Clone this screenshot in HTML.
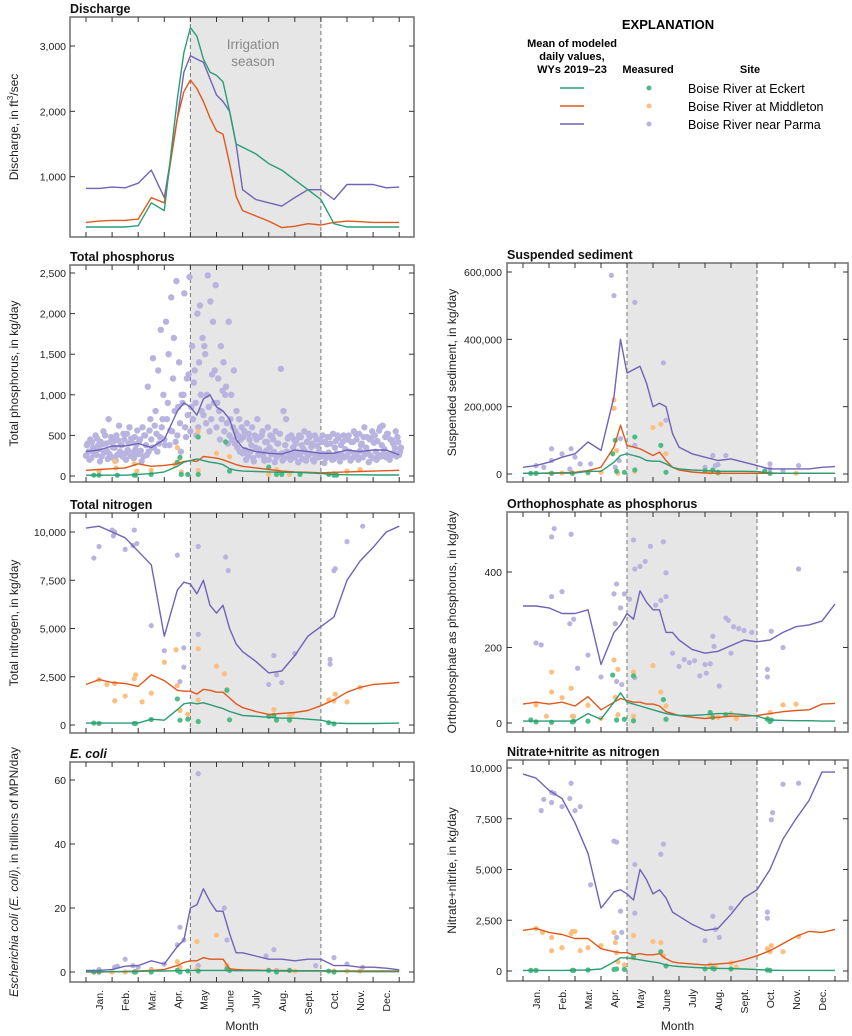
<!DOCTYPE html>
<html><head><meta charset="utf-8">
<style>
html,body{margin:0;padding:0;background:#fff;}
svg{display:block;font-family:"Liberation Sans Narrow","Liberation Sans",sans-serif;}
.tk{font-size:10.5px;fill:#222;}
.ttl{font-size:12.5px;font-weight:bold;fill:#111;}
.ax{font-size:12px;fill:#222;}
</style></head>
<body>
<svg id="chart" width="852" height="1036" viewBox="0 0 852 1036" xmlns="http://www.w3.org/2000/svg">
<g id="legend">
<text x="668" y="29" text-anchor="middle" style="font-size:13px;font-weight:bold">EXPLANATION</text>
<text x="572" y="47" text-anchor="middle" style="font-size:11px;font-weight:bold"><tspan x="572">Mean of modeled</tspan><tspan x="572" dy="13">daily values,</tspan><tspan x="572" dy="13">WYs 2019–23</tspan></text>
<text x="648" y="73" text-anchor="middle" style="font-size:11px;font-weight:bold">Measured</text>
<text x="750" y="73" text-anchor="middle" style="font-size:11px;font-weight:bold">Site</text>
<line x1="560" x2="584" y1="88" y2="88" stroke="#2a9d73" stroke-width="1.6"/>
<circle cx="649" cy="88" r="2.5" fill="#4cbb85"/>
<text x="688" y="93" style="font-size:12.5px">Boise River at Eckert</text>
<line x1="560" x2="584" y1="106" y2="106" stroke="#e0581c" stroke-width="1.6"/>
<circle cx="649" cy="106" r="2.5" fill="#fdbf7e"/>
<text x="688" y="111" style="font-size:12.5px">Boise River at Middleton</text>
<line x1="560" x2="584" y1="124" y2="124" stroke="#6f63b8" stroke-width="1.6"/>
<circle cx="649" cy="124" r="2.5" fill="#b9b3e0"/>
<text x="688" y="129" style="font-size:12.5px">Boise River near Parma</text>
</g>
</svg>
<script>
const t = [0,0.5,1,1.5,2,2.5,3,3.5,3.75,4,4.25,4.5,4.75,5,5.25,5.5,5.75,6,6.5,7,7.5,8,8.5,9,9.5,10,10.5,11,11.5,12];
const monthLabels = ["Jan.","Feb.","Mar.","Apr.","May","June","July","Aug.","Sept.","Oct.","Nov.","Dec."];

const qEckert = [230,230,230,230,250,600,480,2200,2900,3280,3150,2800,2600,2550,2450,2000,1500,1450,1350,1200,1100,950,800,650,280,230,230,230,230,230];
const qMiddleton = [300,320,330,330,350,680,600,1900,2300,2480,2350,2150,1900,1700,1650,1200,700,480,400,320,220,240,280,260,300,320,310,300,300,300];
const qParma = [820,820,840,830,900,1100,680,1900,2600,2850,2800,2750,2500,2250,2150,2000,1500,800,650,600,550,680,800,800,650,880,880,880,830,840];
const qTicks = [1000,2000,3000];
const qTickLabels = ["1,000","2,000","3,000"];

const tpEckert = [10,10,10,10,20,30,50,120,170,190,210,190,170,160,140,90,70,60,55,50,45,45,40,30,20,15,15,12,12,12];
const tpMiddleton = [70,80,90,100,150,120,130,150,180,190,180,240,230,220,200,170,140,120,100,80,60,50,45,40,45,50,55,60,65,70];
const tpParma = [300,320,370,370,400,350,450,800,900,850,750,950,1000,850,800,700,450,350,300,280,270,320,300,280,280,320,300,320,320,260];
const tpParmaMeasLow = [250,300,220,280,260,330,240,290,310,270,230,350,260,300,240,280,320,250,290,330,
270,310,240,380,300,450,350,520,400,600,450,700,380,550,800,500,650,900,600,750,
550,700,900,600,1000,750,650,850,700,900,600,800,700,550,650,500,450,400,350,300,
280,320,250,300,220,350,260,280,240,310,200,270,300,230,260,280,220,300,250,270,
230,290,260,210,300,250,280,200,260,230,240,270,220,290,250,210,280,240,260,230,
250,300,220,280,240,310,230,270,290,250,220,300,260,240,280,230,270,250,290,240,260];
const tpParmaMeasMid = [380,200,420,330,460,180,390,500,210,420,350,190,440,380,520,200,400,460,220,390,
420,180,500,260,560,350,620,300,480,700,380,900,560,1200,420,850,300,1000,480,1250,
850,1150,500,1400,800,1600,1000,550,1250,1300,900,450,1050,1000,400,700,600,550,500,450,
480,200,520,380,180,450,330,500,190,420,350,480,170,400,520,190,380,460,200,350,
400,170,480,330,190,520,360,180,450,300,420,160,390,480,200,350,500,180,420,330,
450,190,420,520,200,380,480,350,170,470,410,200,560,380,330,520,200,440,350,480,300];
const tpParmaMeasHigh = [400,450,350,500,380,420,550,400,700,480,430,500,620,380,450,520,600,410,480,560,
450,600,500,1100,700,1450,800,1300,1800,1000,1900,1500,2200,1700,2400,1400,1000,2250,1200,2450,
1600,1300,2000,2100,1700,1500,2470,2150,1900,2350,1200,1600,1400,1100,1900,1000,1300,800,700,600,
550,650,450,600,500,700,480,550,420,600,500,450,550,400,1320,800,700,480,500,450,
450,500,380,550,420,480,400,500,370,450,500,420,480,400,520,430,470,380,500,450,
500,420,550,450,520,400,600,480,450,550,500,430,600,620,480,520,450,400,550,420,350];
const tpMeasEckert = [[0.3,10],[0.5,10],[1.2,10],[1.85,10],[1.9,10],[2.5,20],[3.5,170],[3.6,230],[3.65,20],[3.9,20],[4.3,20],[4.3,480],[5.35,420],[5.5,60],[7,110],[7.3,20],[7.5,20],[8.2,20],[9.3,20],[9.5,10],[9.6,10]];
const tpMeasMiddleton = [[0.5,60],[1.1,180],[1.15,100],[1.85,150],[1.95,60],[2.5,70],[3.4,140],[3.5,350],[3.6,220],[3.65,50],[4.3,550],[4.3,70],[5.0,280],[5.5,240],[7.0,20],[7.3,80],[7.8,20],[9.5,30],[10,60],[10.5,80]];
const tpTicks = [0,500,1000,1500,2000,2500];
const tpTickLabels = ["0","500","1,000","1,500","2,000","2,500"];

const tnEckert = [100,100,100,100,100,300,250,800,1100,1150,1100,1150,1050,950,850,700,600,500,450,400,350,350,300,250,100,80,80,80,90,100];
const tnMiddleton = [2100,2350,2200,2150,2000,2600,2300,1800,1750,1750,1600,1850,1800,1700,1700,1400,1100,900,700,550,600,650,750,1000,1300,1700,1950,2100,2150,2200];
const tnParma = [10200,10300,10000,9700,9000,8300,4600,7000,7400,7300,6800,7500,6200,5800,6200,5000,4200,3800,3300,2700,2800,3600,4600,5100,5600,7500,8500,9200,10000,10300];
const tnMeasParma = [[0.3,8650],[0.5,9250],[1,10100],[1.05,9800],[1.1,10000],[1.5,9100],[1.8,9300],[1.85,10100],[1.95,9400],[2.5,5150],[3.0,3850],[3.5,8800],[3.6,2250],[3.75,3000],[3.75,4000],[4.3,9250],[4.3,4700],[5.35,8700],[5.45,8000],[7.0,2100],[7.2,3600],[7.3,2600],[7.5,2200],[8.0,3700],[9.35,3400],[9.35,3150],[9.5,8000],[9.55,8100],[10,9500],[10.6,10300]];
const tnMeasMiddleton = [[0.5,2350],[0.8,2100],[1.1,1250],[1.1,2150],[1.5,1500],[1.85,2400],[1.9,2600],[2.15,1200],[2.5,1650],[3.0,3250],[3.45,3900],[3.5,2050],[3.6,750],[3.9,550],[4.3,3950],[4.3,1300],[5.0,3050],[5.3,2650],[5.4,1850],[7.2,800],[7.9,550],[7.8,450],[9.3,1300],[9.5,1250],[9.55,1600],[10,1200],[10.5,1950]];
const tnMeasEckert = [[0.3,100],[0.5,80],[1.85,80],[1.9,80],[2.5,280],[3.5,1350],[3.6,250],[3.9,300],[4.3,180],[5.4,1800],[5.5,270],[7.0,450],[7.2,500],[7.3,250],[7.8,250],[9.3,120],[9.5,60]];
const tnTicks = [0,2500,5000,7500,10000];
const tnTickLabels = ["0","2,500","5,000","7,500","10,000"];

const ecEckert = [0.1,0.1,0.1,0.1,0.2,0.3,0.3,0.4,0.5,0.5,0.5,0.5,0.5,0.5,0.5,0.5,0.4,0.4,0.4,0.4,0.3,0.3,0.3,0.3,0.2,0.2,0.1,0.1,0.1,0.1];
const ecMiddleton = [0,0,0.1,0.2,0.3,0.5,0.8,2,3,3.5,3.5,4.5,4,4,4,1,0.8,0.7,0.6,0.5,0.5,0.4,0.4,0.4,0.3,0.3,0.3,0.3,0.3,0.3];
const ecParma = [0.5,0.5,0.8,1.8,2,3.5,2.5,8,10,20,21,26,22,19,19,12,6,6,5,4,4,3.5,4,4,2,2,1.5,1.5,1.2,0.7];
const ecMeasParma = [[0.5,0.8],[1.1,1.5],[1.2,1.8],[1.5,4],[1.8,2],[2.0,1.5],[2.5,0.8],[3.0,2.5],[3.5,8.5],[3.6,14],[3.75,10],[4.3,62],[4.3,2],[5.3,20],[5.4,10],[6.9,5],[7.2,7],[7.3,0.5],[8.8,2],[9.5,4.5],[10,2.5],[10.6,1.5]];
const ecMeasMiddleton = [[0.5,0],[1.0,0],[1.5,0],[1.9,0.2],[2.5,0.5],[3.5,3.2],[3.6,1.5],[4.25,9.5],[4.25,1],[5.0,11.5],[5.4,2],[7.3,0.2],[8.0,0.3],[9.5,0.3],[10,0.3],[10.5,0.3]];
const ecMeasEckert = [[0.3,0],[0.5,0],[1.85,0],[1.9,0],[2.5,0],[3.5,0.5],[3.6,0],[3.9,0.3],[4.3,0.3],[5.4,1],[5.5,0.5],[7.0,0.5],[7.3,0],[7.8,0.5],[9.3,0.3],[9.5,0]];
const ecTicks = [0,20,40,60];
const ecTickLabels = ["0","20","40","60"];

const ssEckert = [2000,2000,2000,2500,3000,8000,8000,35000,55000,60000,55000,50000,40000,38000,38000,30000,20000,15000,12000,10000,8000,8000,8000,7000,3000,2000,2000,2000,2000,2000];
const ssMiddleton = [2000,2000,3000,4000,5000,10000,20000,80000,145000,85000,80000,75000,65000,55000,65000,40000,20000,12000,6000,3000,2000,2000,2000,2000,2000,2000,2000,2000,2000,2000];
const ssParma = [20000,25000,35000,50000,60000,95000,70000,230000,400000,300000,310000,320000,270000,200000,210000,200000,120000,80000,60000,50000,40000,45000,35000,25000,15000,15000,15000,15000,20000,22000];
const ssMeasParma = [[0.5,25000],[0.8,20000],[1.1,75000],[1.1,40000],[1.5,60000],[1.85,75000],[1.8,15000],[2.0,50000],[2.2,30000],[2.6,30000],[3.4,590000],[3.5,530000],[3.55,20000],[3.75,105000],[3.7,40000],[4.3,510000],[4.3,85000],[5.4,330000],[5.5,160000],[7.0,20000],[7.3,55000],[7.4,25000],[7.5,28000],[7.8,55000],[9.3,10000],[9.5,30000],[9.5,15000],[10,10000],[10.6,25000]];
const ssMeasMiddleton = [[0.5,2000],[1.1,2000],[1.5,3000],[1.9,4000],[2.5,3000],[3.0,5000],[3.5,220000],[3.5,195000],[3.6,70000],[3.65,2000],[4.3,8000],[5.0,138000],[5.3,148000],[5.5,60000],[7.2,5000],[7.5,2000],[9.5,2000],[10.5,2000]];
const ssMeasEckert = [[0.3,2000],[0.5,2000],[1.1,2000],[1.9,2000],[2.5,5000],[3.45,60000],[3.55,100000],[3.6,8000],[3.9,5000],[4.3,110000],[4.3,12000],[5.3,85000],[5.5,5000],[7.0,10000],[7.3,12000],[7.5,5000],[9.3,8000],[9.5,2000]];
const ssTicks = [0,200000,400000,600000];
const ssTickLabels = ["0","200,000","400,000","600,000"];

const opEckert = [5,5,5,5,5,25,10,55,80,55,50,45,40,35,30,25,22,20,20,22,25,25,22,18,8,7,6,6,5,5];
const opMiddleton = [50,55,50,55,45,70,35,55,65,60,55,55,50,50,45,30,25,20,15,12,15,18,18,20,25,30,33,35,50,52];
const opParma = [310,310,305,290,290,300,155,240,260,290,275,350,320,300,300,240,240,220,195,185,190,205,220,215,220,240,255,260,270,315];
const opMeasParma = [[0.5,212],[0.7,207],[1.1,335],[1.1,493],[1.2,515],[1.5,348],[1.8,263],[1.85,500],[1.95,275],[2.1,145],[2.5,180],[3.0,122],[3.5,342],[3.55,263],[3.6,368],[3.6,110],[3.75,305],[3.8,102],[3.9,342],[4.1,328],[4.25,485],[4.3,408],[4.3,120],[4.5,415],[4.7,428],[4.9,468],[5.1,312],[5.3,325],[5.4,480],[5.5,398],[5.5,335],[5.75,185],[6.0,150],[6.2,168],[6.4,160],[6.6,165],[6.8,125],[7.0,155],[7.05,132],[7.3,230],[7.35,203],[7.2,157],[7.55,98],[7.8,278],[7.9,272],[8.0,185],[8.1,255],[8.3,250],[8.5,245],[8.8,240],[9.4,142],[9.4,122],[9.55,243],[10.0,200],[10.6,408]];
const opMeasMiddleton = [[0.5,48],[0.9,18],[1.1,135],[1.1,82],[1.5,67],[1.85,92],[1.9,18],[1.95,18],[2.5,47],[3.0,12],[3.5,167],[3.55,68],[3.65,142],[3.65,22],[4.25,135],[4.25,18],[5.0,152],[5.3,82],[5.5,45],[7.2,18],[7.5,15],[8.0,25],[8.2,12],[9.4,12],[9.5,28],[10,48],[10.5,50]];
const opMeasEckert = [[0.3,8],[0.5,3],[1.1,2],[1.9,3],[1.95,5],[2.5,5],[3.45,127],[3.6,8],[3.9,10],[4.25,125],[4.25,6],[5.4,62],[5.5,10],[7.2,28],[7.3,15],[7.8,22],[9.4,10],[9.5,4],[9.55,8]];
const opTicks = [0,200,400];
const opTickLabels = ["0","200","400"];

const nnEckert = [30,30,30,30,40,50,100,450,650,650,600,550,500,450,400,300,250,220,180,150,130,120,100,70,40,30,30,30,30,30];
const nnMiddleton = [2000,2100,1900,1800,1600,1600,1100,950,900,900,800,850,800,800,850,600,450,400,350,300,350,400,550,750,1000,1350,1700,1950,1900,2050];
const nnParma = [9700,9500,8900,8500,7300,5800,3100,3900,4000,3800,3500,5000,4500,3800,4000,3600,2900,2700,2300,2000,2100,2800,3600,4000,5000,6500,7500,8400,9800,9800];
const nnMeasParma = [[0.7,7900],[0.8,8450],[1.1,8300],[1.1,8800],[1.2,8750],[1.5,8100],[1.8,8500],[1.85,9250],[2.0,7900],[2.2,8100],[2.6,4250],[3.5,6400],[3.6,6350],[3.75,2950],[3.8,1900],[3.6,1650],[4.3,5250],[4.3,2850],[5.3,5750],[5.4,6250],[7.0,1500],[7.3,2700],[7.4,2050],[7.55,1650],[8.0,3100],[9.4,2900],[9.4,2600],[9.55,7450],[9.6,7800],[10,9200],[10.6,9250]];
const nnMeasMiddleton = [[0.5,2100],[0.75,1900],[1.1,1650],[1.1,1000],[1.5,1150],[1.85,1850],[1.9,1950],[2.0,1950],[2.2,1000],[2.5,1150],[3.0,1250],[3.5,1900],[3.55,1400],[3.6,900],[3.65,450],[3.9,300],[4.25,1750],[4.25,650],[5.0,1450],[5.3,1400],[5.4,750],[7.2,300],[7.4,200],[8.0,400],[8.2,200],[9.4,1100],[9.5,950],[9.55,1250],[10.0,950],[10.6,1700]];
const nnMeasEckert = [[0.3,30],[0.5,30],[1.9,30],[1.95,30],[2.5,50],[3.5,80],[3.6,100],[3.9,80],[4.25,700],[5.3,950],[5.5,250],[7.0,100],[7.3,130],[7.35,100],[8.0,100],[9.4,50],[9.5,30]];
const nnTicks = [0,2500,5000,7500,10000];
const nnTickLabels = ["0","2,500","5,000","7,500","10,000"];

const NS = "http://www.w3.org/2000/svg";
const svg = document.getElementById("chart");
const C = {eck:"#2a9d73", mid:"#e0581c", par:"#6f63b8", eckM:"#4cbb85", midM:"#fdbf7e", parM:"#b9b3e0"};
function mk(tag, attrs, parent){
  const e = document.createElementNS(NS, tag);
  for (const k in attrs) e.setAttribute(k, attrs[k]);
  (parent||svg).appendChild(e);
  return e;
}
const layouts = {
  left:{bx0:70,bx1:414,tx0:86,step:26.1,lblX:66,titleX:14},
  right:{bx0:507,bx1:848,tx0:523,step:26,lblX:502,titleX:452}
};
let clipN = 0;
function panel(p){
  const L = layouts[p.side];
  const g = mk("g", {});
  
  
  const sy = (p.yTop - p.yZero) / (p.yTopVal);
  const Y = v => p.yZero + v * sy;
  const X = m => L.tx0 + m * L.step;
  const sh = mk("rect", {x:X(4), y:p.by0, width:X(9)-X(4), height:p.by1-p.by0, fill:"#e6e6e6"}, g);
  
  
  [4,9].forEach(m=>{
    const dl = mk("line", {x1:X(m), x2:X(m), y1:p.by0, y2:p.by1, stroke:"#777", "stroke-width":1, "stroke-dasharray":"4,3"}, g);
    
    
  });
  const id = "clp" + (clipN++);
  const cp = mk("clipPath", {id:id}, g);
  mk("rect", {x:L.bx0, y:p.by0, width:L.bx1-L.bx0, height:p.by1-p.by0}, cp);
  const dg = mk("g", {"clip-path":"url(#"+id+")"}, g);
  (p.meas||[]).forEach(ms=>{
    ms.pts.forEach(pt=>{
      const c = mk("circle", {cx:X(pt[0]), cy:Y(pt[1]), r:ms.r||2.6, fill:ms.color}, dg);
      
      
    });
  });
  p.lines.forEach(ln=>{
    const d = ln.vals.map((v,i)=>(i?"L":"M")+X(t[i]).toFixed(1)+","+Y(v).toFixed(1)).join(" ");
    const pa = mk("path", {d:d, fill:"none", stroke:ln.color, "stroke-width":1.4, "stroke-linejoin":"round"}, dg);
    
    
  });
  const fr = mk("rect", {x:L.bx0, y:p.by0, width:L.bx1-L.bx0, height:p.by1-p.by0, fill:"none", stroke:"#777", "stroke-width":1.6}, g);
  
  
  for (let m=0;m<=12;m++){
    mk("line", {x1:X(m), x2:X(m), y1:p.by1, y2:p.by1-5, stroke:"#333", "stroke-width":1}, g);
    mk("line", {x1:X(m), x2:X(m), y1:p.by0, y2:p.by0+5, stroke:"#333", "stroke-width":1}, g);
  }
  p.ticks.forEach((v,i)=>{
    const y = Y(v);
    mk("line", {x1:L.bx0, x2:L.bx0+5, y1:y, y2:y, stroke:"#333"}, g);
    mk("line", {x1:L.bx1, x2:L.bx1-5, y1:y, y2:y, stroke:"#333"}, g);
    const tx = mk("text", {x:L.lblX, y:y+4, "text-anchor":"end", class:"tk"}, g);
    tx.textContent = p.tickLabels[i];
    
    
  });
  const tt = mk("text", {x:L.bx0, y:p.by0-4, class:"ttl"}, g);
  if (p.italic) tt.setAttribute("font-style","italic");
  tt.textContent = p.title;
  
  
  const cy = (p.by0+p.by1)/2;
  const yt = mk("text", {x:L.titleX, y:cy, "text-anchor":"middle", class:"ax", transform:"rotate(-90 "+L.titleX+" "+cy+")", dy:"4"}, g);
  if (p.ytitleHTML) yt.innerHTML = p.ytitleHTML; else yt.textContent = p.ytitle;
  
  
  if (p.months){
    monthLabels.forEach((lb,i)=>{
      const x = X(i+0.5)+4, y0 = p.by1+8;
      const ml = mk("text", {x:x, y:y0, "text-anchor":"end", class:"tk", transform:"rotate(-90 "+x+" "+y0+")"}, g);
      ml.textContent = lb;
      
      
    });
    const mt = mk("text", {x:(L.bx0+L.bx1)/2, y:1030, "text-anchor":"middle", class:"ax"}, g);
    mt.textContent = "Month";
    
    
  }
  return {g, X, Y};
}
const lines3 = (e,m,pa)=>[{name:"parma",color:C.par,vals:pa},{name:"middleton",color:C.mid,vals:m},{name:"eckert",color:C.eck,vals:e}];
const meas3 = (e,m,pa)=>[{name:"parma-measured",color:C.parM,pts:pa},{name:"middleton-measured",color:C.midM,pts:m},{name:"eckert-measured",color:C.eckM,pts:e}];

const dq = panel({name:"discharge",side:"left",by0:17,by1:237,yZero:242,yTop:46,yTopVal:3000,ticks:qTicks,tickLabels:qTickLabels,title:"Discharge",
  ytitleHTML:'Discharge, in ft<tspan dy="-5" font-size="8">3</tspan><tspan dy="5">/sec</tspan>',lines:lines3(qEckert,qMiddleton,qParma)});
const irr = mk("text", {x:253, y:49, "text-anchor":"middle", fill:"#888", "font-size":"13.5px"}, dq.g);
irr.innerHTML = '<tspan x="253">Irrigation</tspan><tspan x="253" dy="17">season</tspan>';



const tpCloud = [];
tpParmaMeasLow.forEach((v,i)=>tpCloud.push([i*0.1,v]));
tpParmaMeasMid.forEach((v,i)=>tpCloud.push([i*0.1+0.033,v]));
tpParmaMeasHigh.forEach((v,i)=>tpCloud.push([i*0.1+0.066,v]));
panel({name:"total-phosphorus",side:"left",by0:265,by1:482,yZero:476,yTop:273,yTopVal:2500,ticks:tpTicks,tickLabels:tpTickLabels,title:"Total phosphorus",
  ytitle:"Total phosphorus, in kg/day",lines:lines3(tpEckert,tpMiddleton,tpParma),
  meas:[{name:"parma-measured",color:C.parM,pts:tpCloud,r:3.2},{name:"middleton-measured",color:C.midM,pts:tpMeasMiddleton},{name:"eckert-measured",color:C.eckM,pts:tpMeasEckert}]});
panel({name:"total-nitrogen",side:"left",by0:513,by1:733,yZero:725,yTop:532,yTopVal:10000,ticks:tnTicks,tickLabels:tnTickLabels,title:"Total nitrogen",
  ytitle:"Total nitrogen, in kg/day",lines:lines3(tnEckert,tnMiddleton,tnParma),meas:meas3(tnMeasEckert,tnMeasMiddleton,tnMeasParma)});
panel({name:"e-coli",side:"left",by0:762,by1:982,yZero:972,yTop:780,yTopVal:60,ticks:ecTicks,tickLabels:ecTickLabels,title:"E. coli",italic:true,months:true,
  ytitleHTML:'<tspan font-style="italic">Escherichia coli (E. coli)</tspan>, in trillions of MPN/day',lines:lines3(ecEckert,ecMiddleton,ecParma),meas:meas3(ecMeasEckert,ecMeasMiddleton,ecMeasParma)});
panel({name:"suspended-sediment",side:"right",by0:263,by1:482,yZero:474,yTop:272,yTopVal:600000,ticks:ssTicks,tickLabels:ssTickLabels,title:"Suspended sediment",
  ytitle:"Suspended sediment,  in kg/day",lines:lines3(ssEckert,ssMiddleton,ssParma),meas:meas3(ssMeasEckert,ssMeasMiddleton,ssMeasParma)});
panel({name:"orthophosphate",side:"right",by0:512,by1:732,yZero:723,yTop:572,yTopVal:400,ticks:opTicks,tickLabels:opTickLabels,title:"Orthophosphate as phosphorus",
  ytitle:"Orthophosphate as phosphorus, in kg/day",lines:lines3(opEckert,opMiddleton,opParma),meas:meas3(opMeasEckert,opMeasMiddleton,opMeasParma)});
panel({name:"nitrate-nitrite",side:"right",by0:760,by1:981,yZero:971,yTop:768,yTopVal:10000,ticks:nnTicks,tickLabels:nnTickLabels,title:"Nitrate+nitrite as nitrogen",months:true,
  ytitle:"Nitrate+nitrite, in kg/day",lines:lines3(nnEckert,nnMiddleton,nnParma),meas:meas3(nnMeasEckert,nnMeasMiddleton,nnMeasParma)});
</script>
</body></html>
